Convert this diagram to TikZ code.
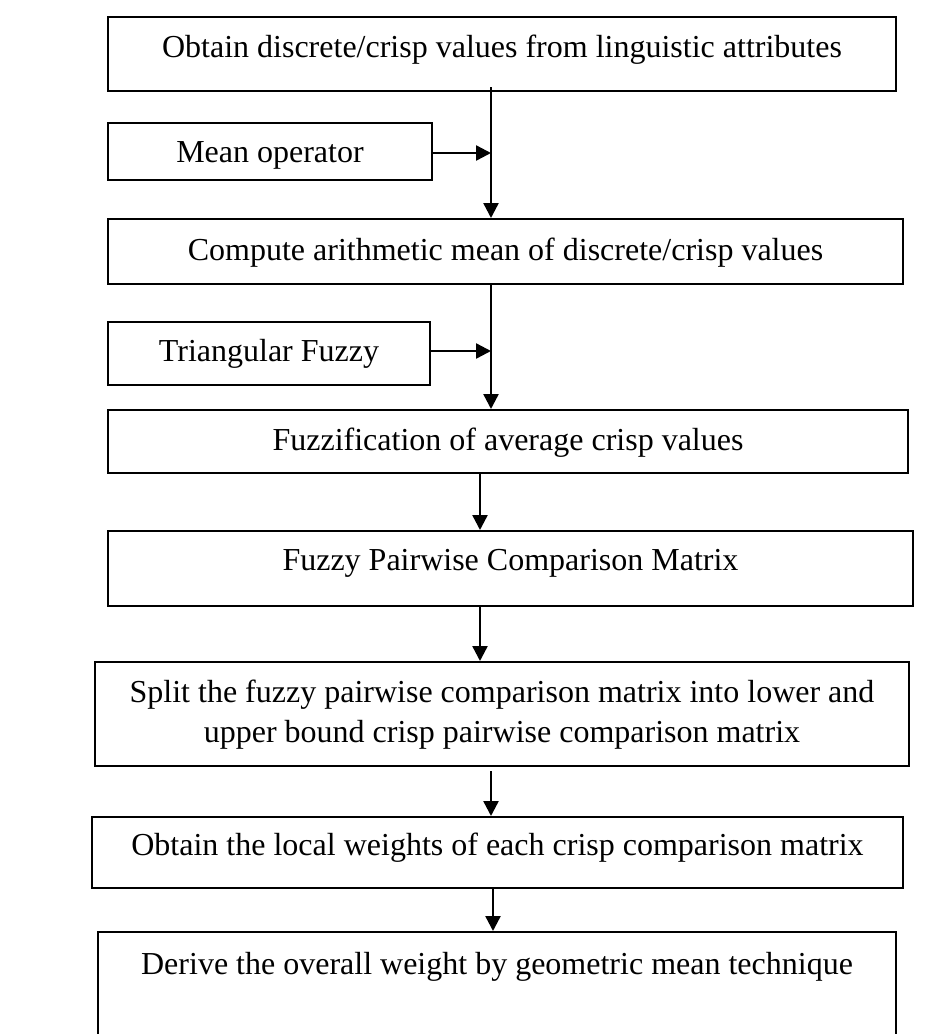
\documentclass[tikz,border=0pt]{standalone}
\usepackage{fontspec}
\setmainfont{Liberation Serif}
\usetikzlibrary{arrows.meta}
\begin{document}
\begin{tikzpicture}[x=1pt,y=-1pt,
  box/.style={draw=black, line width=2pt, fill=white, inner sep=0pt, rectangle},
  txt/.style={inner sep=0pt, align=center, text height=22pt, text depth=7pt,
    font=\fontsize{32}{40}\selectfont},
  arr/.style={line width=2.4pt, -{Triangle[length=15pt,width=15pt]}}]
\useasboundingbox (0,0) rectangle (933,1034);
\clip (0,0) rectangle (933,1034);
\fill[white] (0,0) rectangle (933,1034);
% boxes
\node[box, minimum width=788pt, minimum height=74pt] (b1) at (502,54) {};
\node[box, minimum width=324pt, minimum height=57pt] (mo) at (270,151.5) {};
\node[box, minimum width=795pt, minimum height=65pt] (b2) at (505.5,251.5) {};
\node[box, minimum width=322pt, minimum height=63pt] (tf) at (269,353.5) {};
\node[box, minimum width=800pt, minimum height=63pt] (b3) at (508,441.5) {};
\node[box, minimum width=805pt, minimum height=75pt] (b4) at (510.5,568.5) {};
\node[box, minimum width=814pt, minimum height=104pt] (b5) at (502,714) {};
\node[box, minimum width=811pt, minimum height=71pt] (b6) at (497.5,852.5) {};
\node[box, minimum width=798pt, minimum height=130pt] (b7) at (497,997) {};
% texts
\node[txt] (t1) at (502,50) {Obtain discrete/crisp values from linguistic attributes};
\node[txt] (tm) at (270,155) {Mean operator};
\node[txt] (t2) at (505.5,253) {Compute arithmetic mean of discrete/crisp values};
\node[txt] (tt) at (269,354) {Triangular Fuzzy};
\node[txt] (t3) at (508,443) {Fuzzification of average crisp values};
\node[txt] (t4) at (510.5,563) {Fuzzy Pairwise Comparison Matrix};
\node[txt, text height=, text depth=] (t5) at (502,715) {Split the fuzzy pairwise comparison matrix into lower and\\upper bound crisp pairwise comparison matrix};
\node[txt] (t6) at (497.5,848) {Obtain the local weights of each crisp comparison matrix};
\node[txt] (t7) at (497,967) {Derive the overall weight by geometric mean technique};
% connector columns
\coordinate (cA) at (491,0);
\coordinate (cB) at (480,0);
\coordinate (cC) at (491,0);
\coordinate (cD) at (493,0);
% connectors
\draw[arr] ([yshift=5pt]b1.south -| cA) -- (b2.north -| cA);
\draw[arr] ([xshift=-2pt,yshift=-1.5pt]mo.east) -- ([yshift=-1.5pt]mo.east -| cA);
\draw[arr] (b2.south -| cA) -- (b3.north -| cA);
\draw[arr] ([xshift=-2pt,yshift=2.5pt]tf.east) -- ([yshift=2.5pt]tf.east -| cA);
\draw[arr] (b3.south -| cB) -- (b4.north -| cB);
\draw[arr] (b4.south -| cB) -- (b5.north -| cB);
\draw[arr] ([yshift=-4pt]b5.south -| cC) -- (b6.north -| cC);
\draw[arr] (b6.south -| cD) -- (b7.north -| cD);
\end{tikzpicture}
\end{document}
